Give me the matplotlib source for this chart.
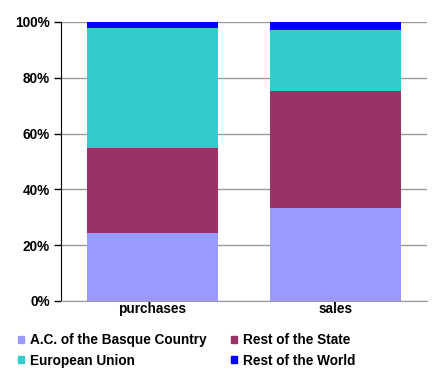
import numpy as np
import matplotlib.pyplot as plt
from matplotlib.patches import Patch

plt.rcParams['font.family'] = ['Liberation Sans', 'DejaVu Sans']

categories = ['purchases', 'sales']
series_names = ['A.C. of the Basque Country', 'Rest of the State',
                'European Union', 'Rest of the World']
basque = [24.5, 33.3]
rest_state = [30.4, 42.0]
eu = [43.0, 21.8]
rest_world = [2.1, 2.9]
colors = ['#9999FF', '#993366', '#33CCCC', '#0000FF']

fig = plt.figure(figsize=(4.33, 3.74), dpi=100)
ax = fig.add_axes([0.1409, 0.1952, 0.845, 0.746])

x = np.arange(len(categories))
bottom = np.zeros(len(categories))
for vals, col in zip([basque, rest_state, eu, rest_world], colors):
    ax.bar(x, vals, 0.72, bottom=bottom, color=col, lw=0, zorder=2)
    bottom += np.array(vals)

fs = 9.8
ax.set_xlim(-0.5, 1.5)
ax.set_ylim(0, 100)
ax.set_yticks(range(0, 101, 20))
ax.set_yticklabels([f'{v}%' for v in range(0, 101, 20)],
                   fontsize=fs, fontweight='bold')
ax.set_xticks(x)
ax.set_xticklabels(categories, fontsize=fs, fontweight='bold')
ax.tick_params(axis='x', length=0, pad=1)
ax.tick_params(axis='y', length=5, width=1, color='black', pad=3)
ax.grid(True, axis='y', color='#999999', lw=1, zorder=0)
for s in ['top', 'right']:
    ax.spines[s].set_visible(False)
ax.spines['left'].set_color('black')
ax.spines['bottom'].set_color('#999999')

order = [0, 2, 1, 3]
handles = [Patch(color=colors[i], label=series_names[i]) for i in order]
fig.legend(handles=handles, ncol=2, loc='upper left',
           bbox_to_anchor=(0.02, 0.134), frameon=False,
           prop={'size': fs, 'weight': 'bold'},
           handlelength=0.45, handleheight=0.45, handletextpad=0.45,
           columnspacing=1.75, labelspacing=0.45, borderpad=0.2)

plt.savefig('out.png', dpi=100)
